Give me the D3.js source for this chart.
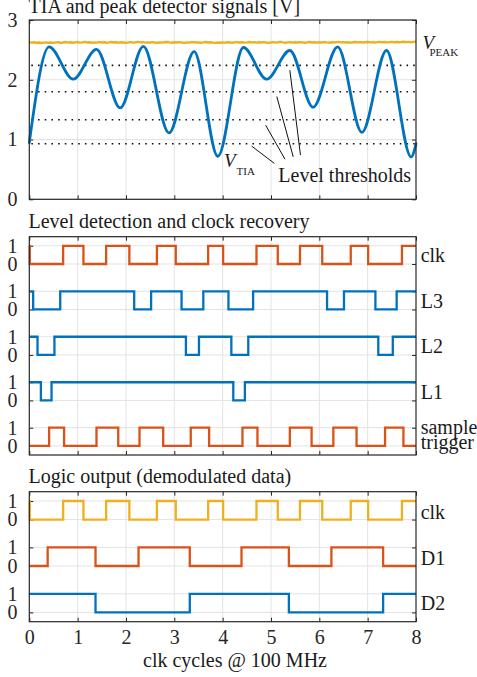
<!DOCTYPE html>
<html>
<head>
<meta charset="utf-8">
<script src="https://cdn.jsdelivr.net/npm/d3@7"></script>
<style>
  html, body { margin: 0; padding: 0; background: #fff; }
  svg { display: block; font-family: "Liberation Serif", "Times New Roman", serif; }
</style>
</head>
<body>
<svg id="chart" width="477" height="677"></svg>
<script>
// ---- data ----
const xTicks = [0, 1, 2, 3, 4, 5, 6, 7, 8];
const topTicks = [0, 1, 2, 3];

// TIA output: extrema of the received waveform (clk cycles, volts)
const tiaTimes  = [0, 0.41, 0.91, 1.39, 1.88, 2.36, 2.89, 3.41, 3.90, 4.43, 4.91, 5.39, 5.87, 6.38, 6.88, 7.39, 7.90, 8.0];
const tiaValues = [0.95, 2.55, 2.01, 2.51, 1.53, 2.56, 1.11, 2.47, 0.72, 2.54, 2.01, 2.49, 1.54, 2.55, 1.12, 2.49, 0.71, 0.93];

// peak detector output, sampled every 0.05 clk cycles
const peakStep = 0.05;
const peakValues = [
  2.630, 2.622, 2.627, 2.618, 2.624, 2.615, 2.621, 2.626, 2.619, 2.623,
  2.617, 2.625, 2.628, 2.620, 2.624, 2.631, 2.622, 2.627, 2.619, 2.625,
  2.629, 2.621, 2.626, 2.633, 2.624, 2.628, 2.620, 2.626, 2.622, 2.630,
  2.624, 2.627, 2.619, 2.625, 2.632, 2.623, 2.628, 2.621, 2.627, 2.624,
  2.618, 2.625, 2.629, 2.622, 2.627, 2.634, 2.625, 2.629, 2.621, 2.626,
  2.623, 2.630, 2.624, 2.619, 2.626, 2.622, 2.628, 2.632, 2.625, 2.620,
  2.627, 2.623, 2.629, 2.624, 2.618, 2.624, 2.621, 2.627, 2.630, 2.623,
  2.626, 2.620, 2.625, 2.631, 2.624, 2.628, 2.622, 2.617, 2.623, 2.620,
  2.626, 2.622, 2.628, 2.624, 2.619, 2.625, 2.630, 2.623, 2.627, 2.621,
  2.626, 2.632, 2.625, 2.629, 2.622, 2.627, 2.624, 2.630, 2.623, 2.618,
  2.624, 2.629, 2.622, 2.627, 2.633, 2.626, 2.620, 2.625, 2.628, 2.622,
  2.627, 2.623, 2.629, 2.625, 2.620, 2.626, 2.631, 2.624, 2.628, 2.621,
  2.627, 2.624, 2.630, 2.625, 2.622, 2.628, 2.623, 2.629, 2.634, 2.626,
  2.630, 2.624, 2.628, 2.622, 2.627, 2.631, 2.625, 2.629, 2.623, 2.628,
  2.632, 2.626, 2.630, 2.624, 2.629, 2.635, 2.627, 2.631, 2.625, 2.630,
  2.634, 2.628, 2.632, 2.627, 2.631, 2.636, 2.629, 2.633, 2.628, 2.634,
  2.638
];

// comparator thresholds [V]
const thresholds = [2.24, 1.80, 1.33, 0.93];

// digital signals: starting level and toggle times (clk cycles)
const clkStart = 1;
const clkToggles = [0.01, 0.70, 1.12, 1.59, 2.07, 2.64, 3.03, 3.70, 4.01, 4.70, 5.14, 5.60, 6.06, 6.65, 7.01, 7.71];
const l3Start = 1;
const l3Toggles = [0.08, 0.64, 2.17, 2.52, 3.15, 3.60, 4.12, 4.63, 6.16, 6.51, 7.16, 7.60];
const l2Start = 1;
const l2Toggles = [0.17, 0.52, 3.24, 3.51, 4.18, 4.53, 7.22, 7.52];
const l1Start = 1;
const l1Toggles = [0.24, 0.46, 4.22, 4.46];
const sampleStart = 0;
const sampleToggles = [0.41, 0.72, 1.39, 1.84, 2.28, 2.77, 3.34, 3.72, 4.41, 4.72, 5.39, 5.84, 6.29, 6.77, 7.36, 7.74];
const d1Start = 0;
const d1Toggles = [0.38, 1.37, 2.26, 3.32, 4.39, 5.37, 6.25, 7.32];
const d2Start = 1;
const d2Toggles = [1.37, 3.32, 5.37, 7.32];

// ---- drawing ----
const BLUE = "#0072BD", ORANGE = "#D95319", YELLOW = "#EDB120";
const AX = "#262626", GRID = "#e3e3e3";

const svg = d3.select("#chart");
const x = d3.scaleLinear().domain([0, 8]).range([29.3, 416]);

function stepPoints(start, toggles) {
  const pts = [[0, start]];
  let lvl = start;
  toggles.forEach(t => { lvl = 1 - lvl; pts.push([t, lvl]); });
  pts.push([8, lvl]);
  return pts;
}

function panel(yScale, yTickVals, yTickFmt, showXLabels) {
  const g = svg.append("g");
  const [y0, y1] = yScale.range();
  // grid
  g.append("g").selectAll("line.v").data(xTicks.slice(1, -1)).join("line")
    .attr("x1", d => x(d)).attr("x2", d => x(d))
    .attr("y1", y1).attr("y2", y0)
    .attr("stroke", GRID).attr("stroke-width", 1);
  g.append("g").selectAll("line.h").data(yTickVals).join("line")
    .attr("x1", x(0)).attr("x2", x(8))
    .attr("y1", d => yScale(d)).attr("y2", d => yScale(d))
    .attr("stroke", GRID).attr("stroke-width", 1);

  const styleAxis = sel => {
    sel.select(".domain").remove();
    sel.selectAll(".tick line").attr("stroke", AX).attr("stroke-width", 1);
    sel.selectAll(".tick text").attr("fill", AX).style("font-size", "20px")
      .style("font-family", '"Liberation Serif", "Times New Roman", serif');
  };
  g.append("g").attr("transform", `translate(0,${y0})`)
    .call(d3.axisBottom(x).tickValues(xTicks).tickSize(-4).tickPadding(8.6)
      .tickFormat(showXLabels ? d3.format("d") : () => ""))
    .call(styleAxis);
  g.append("g").attr("transform", `translate(0,${y1})`)
    .call(d3.axisTop(x).tickValues(xTicks).tickSize(-4).tickFormat(() => ""))
    .call(styleAxis);
  g.append("g").attr("transform", `translate(${x(0)},0)`)
    .call(d3.axisLeft(yScale).tickValues(yTickVals).tickSize(-4).tickPadding(11.8)
      .tickFormat(yTickFmt))
    .call(styleAxis);
  g.append("g").attr("transform", `translate(${x(8)},0)`)
    .call(d3.axisRight(yScale).tickValues(yTickVals).tickSize(-4).tickFormat(() => ""))
    .call(styleAxis);
  return g;
}

function frame(yScale) {
  const [y0, y1] = yScale.range();
  svg.append("rect").attr("x", x(0)).attr("y", y1)
    .attr("width", x(8) - x(0)).attr("height", y0 - y1)
    .attr("fill", "none").attr("stroke", AX).attr("stroke-width", 1.2);
}

function title(text, baseline) {
  svg.append("text").attr("x", 28.5).attr("y", baseline)
    .attr("fill", "#1a1a1a").style("font-size", "20px").text(text);
}

function sideLabel(text, xPos, baseline) {
  svg.append("text").attr("x", xPos).attr("y", baseline)
    .attr("fill", "#1a1a1a").style("font-size", "20px").text(text);
}

// ---------- top panel: analog signals ----------
const yTop = d3.scaleLinear().domain([0, 3]).range([199.3, 20]);
panel(yTop, topTicks, d3.format("d"), false);

svg.append("g").selectAll("line").data(thresholds).join("line")
  .attr("x1", x(0) + 2).attr("x2", x(8))
  .attr("y1", d => yTop(d)).attr("y2", d => yTop(d))
  .attr("stroke", "#111").attr("stroke-width", 1.6)
  .attr("stroke-dasharray", "1.6,5.1");

const peakLine = d3.line().x((d, i) => x(i * peakStep)).y(d => yTop(d));
svg.append("path").datum(peakValues).attr("d", peakLine)
  .attr("fill", "none").attr("stroke", YELLOW).attr("stroke-width", 2.4)
  .attr("stroke-linejoin", "round");

const tiaLine = d3.line().x(d => x(d[0])).y(d => yTop(d[1])).curve(d3.curveMonotoneX);
svg.append("path").datum(tiaTimes.map((t, i) => [t, tiaValues[i]])).attr("d", tiaLine)
  .attr("fill", "none").attr("stroke", BLUE).attr("stroke-width", 2.8)
  .attr("stroke-linejoin", "round").attr("stroke-linecap", "round");

frame(yTop);
title("TIA and peak detector signals [V]", 13);

// labels and leader lines
svg.append("text").attr("x", 422.5).attr("y", 49).attr("fill", "#1a1a1a")
  .style("font-size", "19px").style("font-style", "italic").text("V");
svg.append("text").attr("x", 429.5).attr("y", 55.7).attr("fill", "#1a1a1a")
  .style("font-size", "11px").text("PEAK");
svg.append("text").attr("x", 224).attr("y", 166.7).attr("fill", "#1a1a1a")
  .style("font-size", "19px").style("font-style", "italic").text("V");
svg.append("text").attr("x", 236.5).attr("y", 174.5).attr("fill", "#1a1a1a")
  .style("font-size", "11px").text("TIA");
svg.append("text").attr("x", 278.3).attr("y", 181.7).attr("fill", "#1a1a1a")
  .style("font-size", "20px").text("Level thresholds");

const leaders = [
  [[4.60, 0.89], [5.07, 0.60]],
  [[4.89, 1.24], [5.29, 0.67]],
  [[5.12, 1.72], [5.46, 0.71]],
  [[5.39, 2.16], [5.61, 0.74]]
];
svg.append("g").selectAll("line").data(leaders).join("line")
  .attr("x1", d => x(d[0][0])).attr("y1", d => yTop(d[0][1]))
  .attr("x2", d => x(d[1][0])).attr("y2", d => yTop(d[1][1]))
  .attr("stroke", "#111").attr("stroke-width", 1);

// ---------- middle panel: level detection ----------
const yMid = d3.scaleLinear().domain([-0.5, 11.5]).range([455, 236.7]);
const midRows = [
  { name: "clk", offset: 10, start: clkStart, toggles: clkToggles, color: ORANGE },
  { name: "L3", offset: 7.5, start: l3Start, toggles: l3Toggles, color: BLUE },
  { name: "L2", offset: 5, start: l2Start, toggles: l2Toggles, color: BLUE },
  { name: "L1", offset: 2.5, start: l1Start, toggles: l1Toggles, color: BLUE },
  { name: "sample", offset: 0, start: sampleStart, toggles: sampleToggles, color: ORANGE }
];
const midTicks = midRows.flatMap(r => [r.offset, r.offset + 1]).sort((a, b) => a - b);
const binFmt = (rows) => v => (rows.some(r => r.offset === v) ? "0" : "1");
panel(yMid, midTicks, binFmt(midRows), false);

function drawRows(rows, yScale) {
  const stepLine = off => d3.line().x(d => x(d[0])).y(d => yScale(d[1] + off)).curve(d3.curveStepAfter);
  rows.forEach(r => {
    svg.append("path").datum(stepPoints(r.start, r.toggles))
      .attr("d", stepLine(r.offset))
      .attr("fill", "none").attr("stroke", r.color).attr("stroke-width", 2.3);
  });
}
drawRows(midRows, yMid);
frame(yMid);
title("Level detection and clock recovery", 228.3);
sideLabel("clk", 420.7, yMid(10) - 1.5);
sideLabel("L3", 420.7, yMid(7.5) - 1.5);
sideLabel("L2", 420.7, yMid(5) - 1.5);
sideLabel("L1", 420.7, yMid(2.5) - 1.5);
sideLabel("sample", 420.7, yMid(0) - 12.4);
sideLabel("trigger", 420.7, yMid(0) + 2.6);

// ---------- bottom panel: demodulated output ----------
const yBot = d3.scaleLinear().domain([-0.5, 6.5]).range([621.7, 491.7]);
const botRows = [
  { name: "clk", offset: 5, start: clkStart, toggles: clkToggles, color: YELLOW },
  { name: "D1", offset: 2.5, start: d1Start, toggles: d1Toggles, color: ORANGE },
  { name: "D2", offset: 0, start: d2Start, toggles: d2Toggles, color: BLUE }
];
const botTicks = botRows.flatMap(r => [r.offset, r.offset + 1]).sort((a, b) => a - b);
panel(yBot, botTicks, binFmt(botRows), true);
drawRows(botRows, yBot);
frame(yBot);
title("Logic output (demodulated data)", 483.3);
sideLabel("clk", 420.7, yBot(5) - 1);
sideLabel("D1", 420.7, yBot(2.5) - 1);
sideLabel("D2", 420.7, yBot(0) - 2);

svg.append("text").attr("x", 235).attr("y", 666.7).attr("text-anchor", "middle")
  .attr("fill", "#1a1a1a").style("font-size", "20px").text("clk cycles @ 100 MHz");
</script>
</body>
</html>
